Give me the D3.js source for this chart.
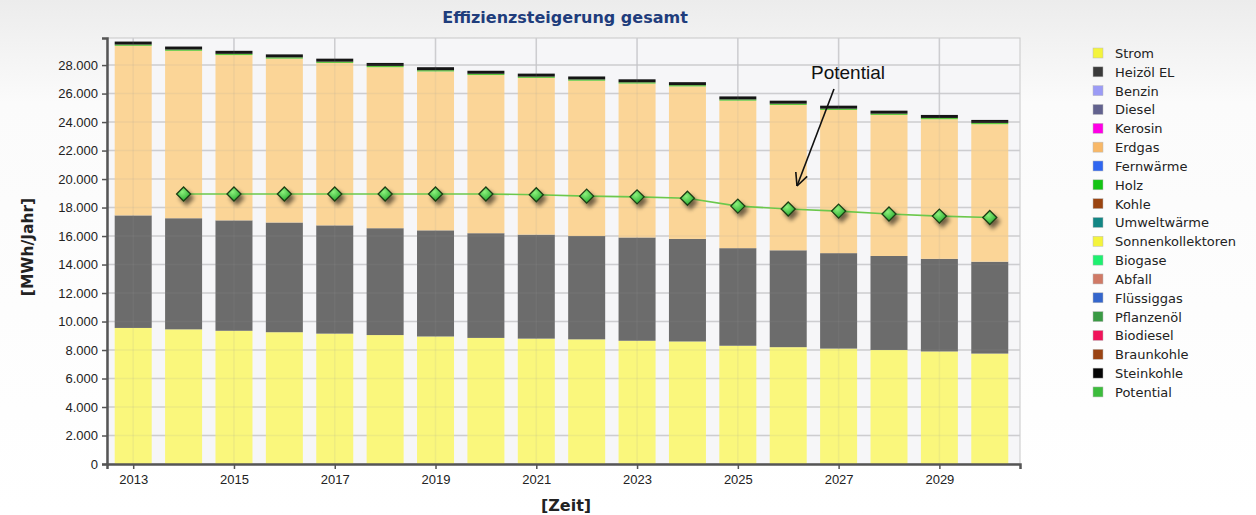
<!DOCTYPE html>
<html>
<head>
<meta charset="utf-8">
<script src="https://cdn.jsdelivr.net/npm/d3@7"></script>
<style>
  body { margin: 0; background: #fff; }
  svg { display: block; }
</style>
</head>
<body>
<div id="chart"></div>
<script>
// data
var years = [2013, 2014, 2015, 2016, 2017, 2018, 2019, 2020, 2021, 2022, 2023, 2024, 2025, 2026, 2027, 2028, 2029, 2030];
var strom = [9550, 9450, 9350, 9250, 9150, 9050, 8950, 8850, 8800, 8750, 8650, 8600, 8300, 8200, 8100, 8000, 7900, 7750];
var heizoel = [7900, 7800, 7750, 7700, 7600, 7500, 7450, 7350, 7300, 7250, 7250, 7200, 6850, 6800, 6700, 6600, 6500, 6450];
var erdgas = [11900, 11750, 11600, 11500, 11400, 11300, 11150, 11100, 11000, 10900, 10800, 10700, 10350, 10200, 10050, 9900, 9800, 9650];
var holz = [90, 90, 90, 90, 90, 90, 90, 90, 90, 90, 90, 90, 90, 90, 90, 90, 90, 90];
var steinkohle = [210, 210, 210, 210, 210, 210, 210, 210, 210, 210, 210, 210, 210, 210, 210, 210, 210, 210];
var potentialYears = [2014, 2015, 2016, 2017, 2018, 2019, 2020, 2021, 2022, 2023, 2024, 2025, 2026, 2027, 2028, 2029, 2030];
var potential = [18950, 18950, 18950, 18950, 18950, 18950, 18950, 18900, 18800, 18750, 18650, 18100, 17900, 17750, 17550, 17400, 17300];
var yTicks = [0, 2000, 4000, 6000, 8000, 10000, 12000, 14000, 16000, 18000, 20000, 22000, 24000, 26000, 28000];
var xTicks = [2013, 2015, 2017, 2019, 2021, 2023, 2025, 2027, 2029];
var legendNames = ["Strom", "Heizöl EL", "Benzin", "Diesel", "Kerosin", "Erdgas", "Fernwärme", "Holz", "Kohle", "Umweltwärme", "Sonnenkollektoren", "Biogase", "Abfall", "Flüssiggas", "Pflanzenöl", "Biodiesel", "Braunkohle", "Steinkohle", "Potential"];
var legendColors = ["#f4f43c", "#3a3a3a", "#9b9bf5", "#62628e", "#ff00e6", "#f8b868", "#2f66f0", "#14c414", "#9a4410", "#138684", "#f4f43c", "#1ef070", "#d07a66", "#3466cc", "#3a9a44", "#f0145a", "#9a4414", "#050505", "#3cbc3c"];

var W = 1256, H = 515;
var margin = {top: 38, left: 107, right: 236, bottom: 51};
var pw = W - margin.left - margin.right;   // 913
var ph = H - margin.top - margin.bottom;   // 426

var svg = d3.select("#chart").append("svg").attr("width", W).attr("height", H)
    .style("font-family", "'DejaVu Sans', Verdana, sans-serif");

var defs = svg.append("defs");
var bg = defs.append("linearGradient").attr("id", "bgGrad").attr("x1", 0).attr("y1", 0).attr("x2", 0).attr("y2", 1);
bg.append("stop").attr("offset", "0%").attr("stop-color", "#ececec");
bg.append("stop").attr("offset", "20%").attr("stop-color", "#fbfbfb");
bg.append("stop").attr("offset", "100%").attr("stop-color", "#ffffff");
var dg = defs.append("radialGradient").attr("id", "dia").attr("cx", "40%").attr("cy", "35%").attr("r", "70%");
dg.append("stop").attr("offset", "0%").attr("stop-color", "#8cf07c");
dg.append("stop").attr("offset", "100%").attr("stop-color", "#22a82a");
var sh = defs.append("filter").attr("id", "shadow").attr("x", "-50%").attr("y", "-50%").attr("width", "250%").attr("height", "250%");
sh.append("feGaussianBlur").attr("in", "SourceAlpha").attr("stdDeviation", 2);
sh.append("feOffset").attr("dx", 3).attr("dy", 4).attr("result", "b");
sh.append("feComponentTransfer").append("feFuncA").attr("type", "linear").attr("slope", 0.55);
var fm = sh.append("feMerge");
fm.append("feMergeNode");
fm.append("feMergeNode").attr("in", "SourceGraphic");

svg.append("rect").attr("width", W).attr("height", H).attr("fill", "url(#bgGrad)");

// title
svg.append("text").attr("x", 565).attr("y", 23).attr("text-anchor", "middle")
    .attr("fill", "#1f3d7c").style("font-size", "16px").style("font-weight", "bold")
    .text("Effizienzsteigerung gesamt");

var g = svg.append("g").attr("transform", "translate(" + margin.left + "," + margin.top + ")");

var x = d3.scaleLinear().domain([2012.48, 2030.6]).range([0, pw]);
var y = d3.scaleLinear().domain([0, 29900]).range([ph, 0]);

g.append("rect").attr("width", pw).attr("height", ph).attr("fill", "#f6f6f8")
    .attr("stroke", "#c8c8c8");

// grid
g.selectAll(".hg").data(yTicks.slice(1)).enter().append("line")
    .attr("x1", 0).attr("x2", pw).attr("y1", d => y(d)).attr("y2", d => y(d))
    .attr("stroke", "#d4d4d8").attr("stroke-width", 1.5);
g.selectAll(".vg").data(xTicks).enter().append("line")
    .attr("y1", 0).attr("y2", ph).attr("x1", d => x(d)).attr("x2", d => x(d))
    .attr("stroke", "#d4d4d8").attr("stroke-width", 1.5);

// stacked bars
var rows = years.map(function(yr, i) {
  return {year: yr, strom: strom[i], heizoel: heizoel[i], erdgas: erdgas[i], holz: holz[i], steinkohle: steinkohle[i]};
});
var keys = ["strom", "heizoel", "erdgas", "holz", "steinkohle"];
var barColors = {strom: "#faf77c", heizoel: "#6c6c6c", erdgas: "#fbd597", holz: "#5cc83a", steinkohle: "#151515"};
var stack = d3.stack().keys(keys)(rows);
var bw = 37;
g.selectAll(".layer").data(stack).enter().append("g")
    .attr("fill", d => barColors[d.key])
    .selectAll("rect").data(d => d).enter().append("rect")
    .attr("x", d => x(d.data.year) - bw / 2)
    .attr("width", bw)
    .attr("y", d => y(d[1]))
    .attr("height", d => y(d[0]) - y(d[1]));

// faint grid showing through bars
g.selectAll(".hg2").data(yTicks.slice(1)).enter().append("line")
    .attr("x1", 0).attr("x2", pw).attr("y1", d => y(d)).attr("y2", d => y(d))
    .attr("stroke", "#9a9a9a").attr("stroke-opacity", 0.12).attr("stroke-width", 1.5);
g.selectAll(".vg2").data(xTicks).enter().append("line")
    .attr("y1", 0).attr("y2", ph).attr("x1", d => x(d)).attr("x2", d => x(d))
    .attr("stroke", "#9a9a9a").attr("stroke-opacity", 0.12).attr("stroke-width", 1.5);

// potential line
var pts = potentialYears.map((yr, i) => [yr, potential[i]]);
g.append("path").datum(pts)
    .attr("d", d3.line().x(d => x(d[0])).y(d => y(d[1])))
    .attr("fill", "none").attr("stroke", "#6cc84c").attr("stroke-width", 1.6);
g.selectAll(".dia").data(pts).enter().append("path")
    .attr("transform", d => "translate(" + x(d[0]) + "," + y(d[1]) + ")")
    .attr("d", "M0,-7L7,0L0,7L-7,0Z")
    .attr("fill", "url(#dia)").attr("stroke", "#1b3e14").attr("stroke-width", 1.3)
    .attr("filter", "url(#shadow)");

// axes
var yAxis = g.append("g").call(d3.axisLeft(y).tickValues(yTicks).tickSize(5).tickPadding(4)
    .tickFormat(d => d3.format(",")(d).replace(/,/g, ".")));
var xAxis = g.append("g").attr("transform", "translate(0," + ph + ")")
    .call(d3.axisBottom(x).tickValues(xTicks).tickSize(5).tickPadding(6).tickFormat(d3.format("d")));
[yAxis, xAxis].forEach(function(a) {
  a.select(".domain").attr("stroke", "#555").attr("stroke-width", 2.5);
  a.selectAll(".tick line").attr("stroke", "#555").attr("stroke-width", 1.5);
  a.selectAll(".tick text").attr("fill", "#222").style("font-size", "13px");
});

svg.append("text").attr("transform", "translate(33," + (margin.top + ph / 2 - 4) + ") rotate(-90)")
    .attr("text-anchor", "middle").attr("fill", "#222")
    .style("font-size", "15.5px").style("font-weight", "bold").text("[MWh/Jahr]");
svg.append("text").attr("x", 566).attr("y", 511).attr("text-anchor", "middle").attr("fill", "#222")
    .style("font-size", "16px").style("font-weight", "bold").text("[Zeit]");

// annotation
svg.append("text").attr("x", 848).attr("y", 79).attr("text-anchor", "middle")
    .style("font-family", "'Liberation Sans', Arial, sans-serif").style("font-size", "19px")
    .attr("fill", "#111").text("Potential");
var ax1 = 834, ay1 = 89, ax2 = 797, ay2 = 186;
svg.append("line").attr("x1", ax1).attr("y1", ay1).attr("x2", ax2).attr("y2", ay2)
    .attr("stroke", "#111").attr("stroke-width", 1.6);
var ang = Math.atan2(ay2 - ay1, ax2 - ax1);
[0.45, -0.45].forEach(function(o) {
  svg.append("line").attr("x1", ax2).attr("y1", ay2)
      .attr("x2", ax2 - 14 * Math.cos(ang + o)).attr("y2", ay2 - 14 * Math.sin(ang + o))
      .attr("stroke", "#111").attr("stroke-width", 1.6);
});

// legend
var leg = svg.append("g").attr("transform", "translate(1093,53)");
var li = leg.selectAll("g").data(legendNames).enter().append("g")
    .attr("transform", (d, i) => "translate(0," + (i * 18.83) + ")");
li.append("rect").attr("x", 0).attr("y", -5).attr("width", 10).attr("height", 10)
    .attr("fill", (d, i) => legendColors[i]).attr("stroke", "#bbb").attr("stroke-width", 0.5);
li.append("text").attr("x", 22).attr("y", 5).attr("fill", "#222")
    .style("font-family", "'DejaVu Sans', Verdana, sans-serif").style("font-size", "13px")
    .text(d => d);
</script>
</body>
</html>
